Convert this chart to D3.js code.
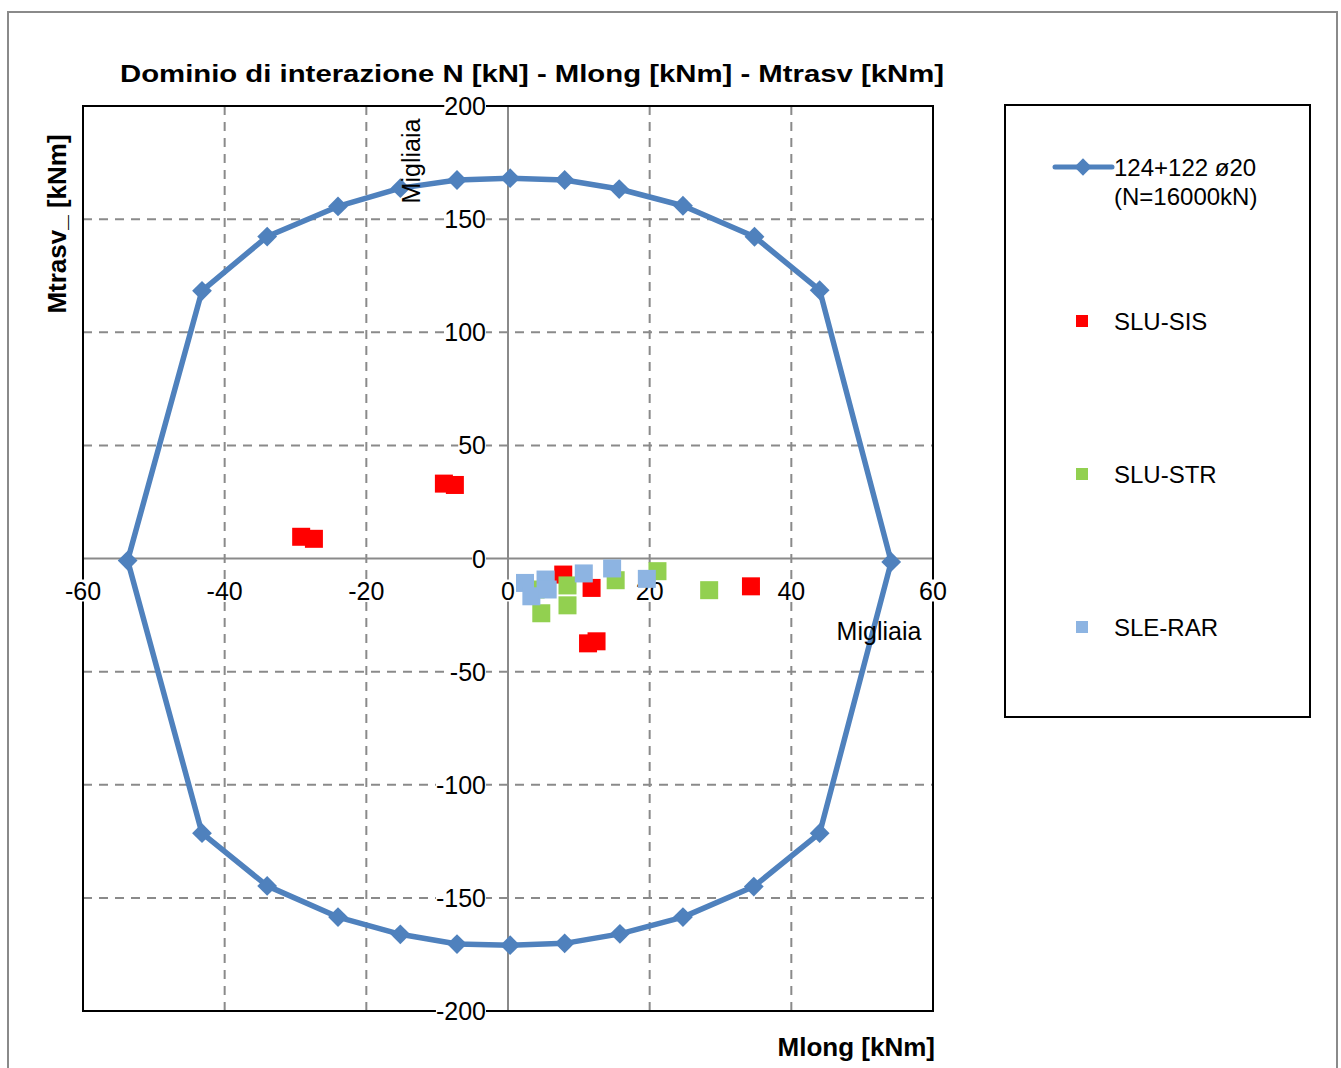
<!DOCTYPE html>
<html><head><meta charset="utf-8">
<script src="https://cdn.jsdelivr.net/npm/d3@7"></script>
<style>
html,body{margin:0;padding:0;background:#fff;}
svg{display:block;font-family:"Liberation Sans",Arial,sans-serif;}
</style></head>
<body>
<svg id="chart" width="1341" height="1068"></svg>
<script>
// ---- data (values in thousands, "Migliaia") ----
const xTicks = [-60, -40, -20, 0, 20, 40, 60];
const yTicks = [-200, -150, -100, -50, 0, 50, 100, 150, 200];
const domainX = [54.1, 44.0, 34.8, 24.7, 15.7, 8.0, 0.3, -7.2, -15.2, -24.0, -34.0, -43.2, -53.7, -43.2, -34.0, -24.0, -15.2, -7.2, 0.3, 8.0, 15.8, 24.7, 34.7, 44.0, 54.1];
const domainY = [-1.5, 118.6, 142.2, 155.9, 163.3, 167.3, 168.1, 167.3, 163.7, 155.6, 142.3, 118.3, -0.9, -121.4, -144.7, -158.5, -166.1, -170.4, -170.9, -170.1, -165.9, -158.5, -145.0, -121.4, -1.5];
const sisX = [-29.2, -27.4, -9.05, -7.5, 7.8, 11.8, 34.3, 11.3, 12.5];
const sisY = [9.6, 8.7, 33.1, 32.5, -7.1, -13.0, -12.3, -37.5, -36.6];
const strX = [21.1, 28.4, 15.2, 8.4, 8.4, 4.7, 3.9];
const strY = [-5.6, -14.0, -9.6, -11.9, -20.7, -24.2, -13.7];
const rarX = [2.4, 3.3, 5.3, 5.6, 10.7, 14.7, 19.6];
const rarY = [-10.8, -16.7, -9.3, -13.7, -6.6, -4.4, -9.0];
const seriesNames = ["124+122 ø20", "(N=16000kN)", "SLU-SIS", "SLU-STR", "SLE-RAR"];
const title = "Dominio di interazione N [kN] - Mlong [kNm] - Mtrasv [kNm]";

const colLine = "#4F81BD", colSIS = "#FF0000", colSTR = "#92D050", colRAR = "#8DB4E2";

const svg = d3.select("#chart");
const L = 83, R = 933, T = 106, B = 1011;
const x = d3.scaleLinear().domain([-60, 60]).range([L, R]);
const y = d3.scaleLinear().domain([-200, 200]).range([B, T]);

// outer frame
svg.append("rect").attr("x", 8).attr("y", 12).attr("width", 1329).attr("height", 1100)
  .attr("fill", "none").attr("stroke", "#8a8a8a").attr("stroke-width", 2);

// title
svg.append("text").attr("x", 532).attr("y", 82).attr("text-anchor", "middle")
  .attr("font-size", 24).attr("font-weight", "bold").attr("fill", "#000")
  .attr("textLength", 824).attr("lengthAdjust", "spacingAndGlyphs").text(title);

// gridlines
const g = svg.append("g");
g.selectAll(".gx").data(xTicks.filter(d => d !== 0 && Math.abs(d) !== 60)).enter().append("line")
  .attr("x1", d => x(d)).attr("x2", d => x(d)).attr("y1", T).attr("y2", B)
  .attr("stroke", "#8a8a8a").attr("stroke-width", 2).attr("stroke-dasharray", "9,7");
g.selectAll(".gy").data(yTicks.filter(d => d !== 0 && Math.abs(d) !== 200)).enter().append("line")
  .attr("y1", d => y(d)).attr("y2", d => y(d)).attr("x1", L).attr("x2", R)
  .attr("stroke", "#8a8a8a").attr("stroke-width", 2).attr("stroke-dasharray", "9,7");

// axis lines through zero
g.append("line").attr("x1", L).attr("x2", R).attr("y1", y(0)).attr("y2", y(0))
  .attr("stroke", "#8a8a8a").attr("stroke-width", 2);
g.append("line").attr("x1", x(0)).attr("x2", x(0)).attr("y1", T).attr("y2", B)
  .attr("stroke", "#8a8a8a").attr("stroke-width", 2);

// plot border
svg.append("rect").attr("x", L).attr("y", T).attr("width", R - L).attr("height", B - T)
  .attr("fill", "none").attr("stroke", "#000").attr("stroke-width", 2);

// tick labels with white backgrounds
function labelWithBg(parent, tx, ty, txt, anchor) {
  const gg = parent.append("g");
  const t = gg.append("text").attr("x", tx).attr("y", ty).attr("text-anchor", anchor)
    .attr("dominant-baseline", "central").attr("font-size", 25).attr("fill", "#000").text(txt);
  const bb = t.node().getBBox();
  gg.insert("rect", "text").attr("x", bb.x).attr("y", bb.y + 3).attr("width", bb.width).attr("height", bb.height - 6)
    .attr("fill", "#fff");
}
const lab = svg.append("g");
xTicks.forEach(d => labelWithBg(lab, x(d), y(0) + 32, String(d), "middle"));
yTicks.forEach(d => labelWithBg(lab, x(0) - 22, y(d), String(d), "end"));

// axis titles
svg.append("text").attr("transform", "translate(57,224) rotate(-90)").attr("text-anchor", "middle")
  .attr("dominant-baseline", "central").attr("font-size", 26).attr("font-weight", "bold").text("Mtrasv_ [kNm]");
svg.append("text").attr("x", 935).attr("y", 1056).attr("text-anchor", "end")
  .attr("font-size", 26).attr("font-weight", "bold").text("Mlong [kNm]");

// domain line
const pts = domainX.map((d, i) => [d, domainY[i]]);
svg.append("path").datum(pts)
  .attr("d", d3.line().x(d => x(d[0])).y(d => y(d[1])))
  .attr("fill", "none").attr("stroke", colLine).attr("stroke-width", 5.5).attr("stroke-linejoin", "round");
const diamond = d3.symbol().type(d3.symbolDiamond2).size(250);
svg.append("g").selectAll("path").data(pts.slice(0, pts.length - 1)).enter().append("path")
  .attr("d", diamond).attr("transform", d => `translate(${x(d[0])},${y(d[1])})`).attr("fill", colLine);

// scatter series
function scatter(xs, ys, col) {
  const s = 18;
  svg.append("g").selectAll("rect").data(xs.map((d, i) => [d, ys[i]])).enter().append("rect")
    .attr("x", d => x(d[0]) - s / 2).attr("y", d => y(d[1]) - s / 2)
    .attr("width", s).attr("height", s).attr("fill", col);
}
scatter(sisX, sisY, colSIS);
scatter(strX, strY, colSTR);
scatter(rarX, rarY, colRAR);

// "Migliaia" labels (drawn over the series)
svg.append("text").attr("transform", `translate(411,161) rotate(-90)`).attr("text-anchor", "middle")
  .attr("dominant-baseline", "central").attr("font-size", 25).text("Migliaia");
svg.append("text").attr("x", 879).attr("y", 631).attr("text-anchor", "middle")
  .attr("dominant-baseline", "central").attr("font-size", 25).text("Migliaia");

// legend
const lg = svg.append("g");
lg.append("rect").attr("x", 1005).attr("y", 105).attr("width", 305).attr("height", 612)
  .attr("fill", "#fff").attr("stroke", "#000").attr("stroke-width", 2);
lg.append("line").attr("x1", 1055).attr("x2", 1112).attr("y1", 167).attr("y2", 167)
  .attr("stroke", colLine).attr("stroke-width", 5).attr("stroke-linecap", "round");
lg.append("path").attr("d", d3.symbol().type(d3.symbolDiamond2).size(190)).attr("transform", "translate(1083,167)").attr("fill", colLine);
lg.append("text").attr("x", 1114).attr("y", 167).attr("dominant-baseline", "central")
  .attr("font-size", 24).text(seriesNames[0]);
lg.append("text").attr("x", 1114).attr("y", 196).attr("dominant-baseline", "central")
  .attr("font-size", 24).text(seriesNames[1]);
const legItems = [[seriesNames[2], colSIS, 321], [seriesNames[3], colSTR, 474], [seriesNames[4], colRAR, 627]];
legItems.forEach(([name, col, yy]) => {
  lg.append("rect").attr("x", 1076).attr("y", yy - 6).attr("width", 12).attr("height", 12).attr("fill", col);
  lg.append("text").attr("x", 1114).attr("y", yy).attr("dominant-baseline", "central")
    .attr("font-size", 24).text(name);
});
</script>
</body></html>
